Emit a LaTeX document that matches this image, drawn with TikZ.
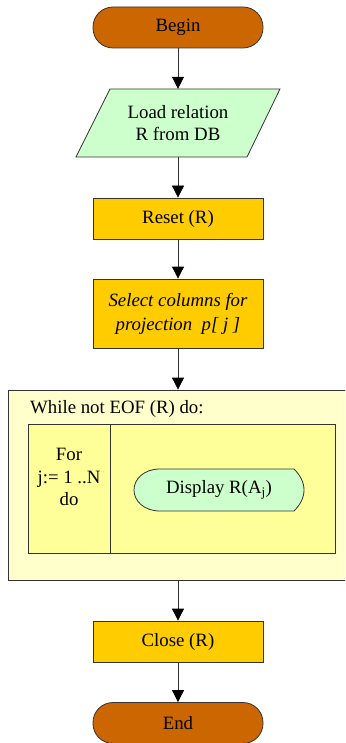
\documentclass[tikz,border=0pt]{standalone}
\usepackage{fontspec}
\setmainfont{Liberation Serif}
\usetikzlibrary{arrows.meta}
\definecolor{brownT}{HTML}{CC6600}
\definecolor{yelB}{HTML}{FFCC00}
\definecolor{greenL}{HTML}{CCFFCC}
\definecolor{yelL}{HTML}{FFFFCC}
\definecolor{yelM}{HTML}{FFFF99}
\definecolor{linec}{HTML}{333333}
\newcommand\myfs{\fontsize{18.8}{22}\selectfont}
\tikzset{
  term/.style={draw=linec, line width=0.8pt, fill=brownT, rounded corners=20pt, minimum width=170pt, minimum height=41pt, inner sep=0pt, font=\myfs},
  proc/.style={draw=linec, line width=0.8pt, fill=yelB, minimum width=170pt, inner sep=0pt, align=center, font=\myfs},
  plain/.style={inner sep=0pt, align=center, font=\myfs},
  outline/.style={draw=linec, line width=0.8pt},
  arr/.style={-{Triangle[width=12pt,length=12pt,color=black]}, draw=linec, line width=0.8pt}
}
\begin{document}
\begin{tikzpicture}[x=1pt,y=-1pt]
\useasboundingbox (0,0) rectangle (345,743);
\clip (0,0) rectangle (345,743);
% Begin
\node[term] (begin) at (178,27.5) {Begin};
% Load (parallelogram)
\filldraw[outline, fill=greenL] (110,89) -- (280,89) -- (247,157) -- (76,157) -- cycle;
\node[plain, minimum width=170pt, minimum height=68pt] (load) at (178,123) {Load relation\\R from DB};
% Reset
\node[proc, minimum height=41pt] (reset) at (178,218.5) {Reset (R)};
% Select
\node[proc, minimum height=69pt, font=\itshape\fontsize{18.8}{24}\selectfont] (select) at (178,313.5) {Select columns for\\projection~~p[ j ]};
% While box
\node[outline, fill=yelL, minimum width=342pt, minimum height=190pt, inner sep=0pt] (whilebox) at (179,485) {};
\node[plain, anchor=base west] (whiletxt) at (30,413) {While not EOF (R) do:};
\node[outline, fill=yelM, minimum width=307pt, minimum height=129pt, inner sep=0pt] (inner) at (181.5,488.5) {};
\coordinate (divtop) at (110,424);
\coordinate (divbot) at (110,553);
\draw[outline] (divtop) -- (divbot);
\node[plain, font=\fontsize{18.8}{22.5}\selectfont] (fortxt) at (69,477) {For\\j:= 1 ..N\\do};
% Display shape
\filldraw[outline, fill=greenL] (160,469) -- (294,469)
  .. controls (300,475) and (304,482) .. (304,490)
  .. controls (304,498) and (300,505) .. (294,511)
  -- (160,511)
  .. controls (144,511) and (134,501) .. (134,490)
  .. controls (134,479) and (144,469) .. (160,469) -- cycle;
\node[plain] (display) at (219,490) {Display R(A\textsubscript{j})};
% Close
\node[proc, minimum height=41pt] (close) at (178,641.5) {Close (R)};
% End
\node[term] (end) at (178,723) {End};
% Connectors
\draw[arr] (begin) -- (load);
\draw[arr] (load) -- (reset);
\draw[arr] (reset) -- (select);
\draw[arr] (select.south) -- (select.south |- whilebox.north);
\draw[arr] (close.north |- whilebox.south) -- (close.north);
\draw[arr] (close) -- (end);
\end{tikzpicture}
\end{document}
